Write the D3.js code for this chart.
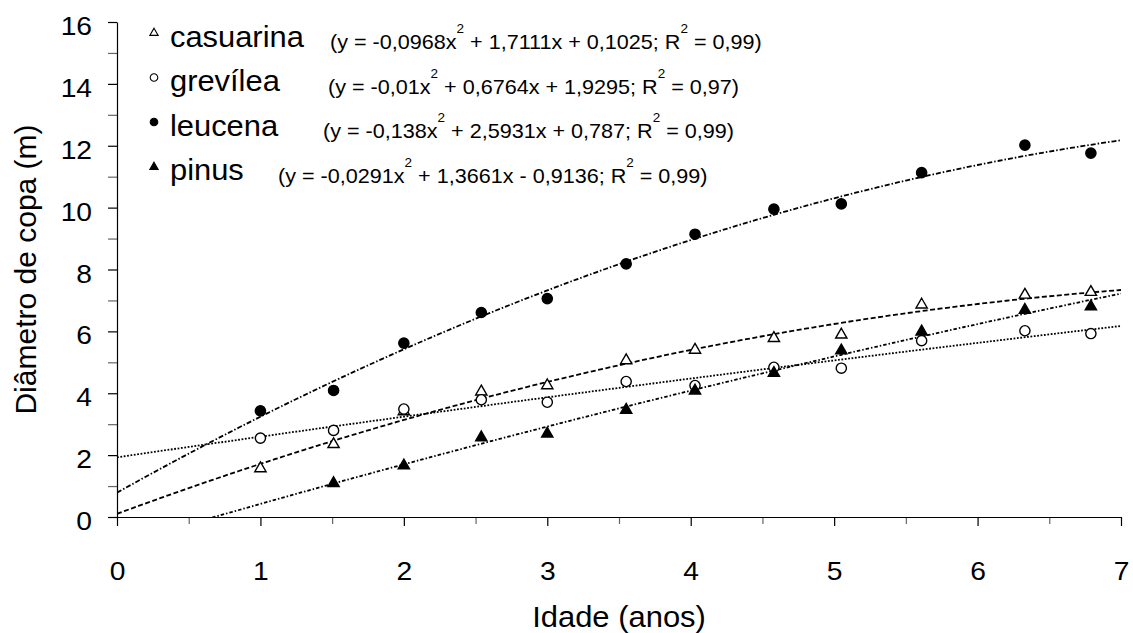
<!DOCTYPE html>
<html>
<head>
<meta charset="utf-8">
<script src="https://cdn.jsdelivr.net/npm/d3@7"></script>
<style>
  html, body { margin: 0; padding: 0; background: #fff; }
  svg { display: block; }
  text { font-family: "Liberation Sans", Arial, sans-serif; fill: #000; }
</style>
</head>
<body>
<svg id="chart" width="1133" height="633"></svg>
<script>
// ---------------- data ----------------
const ages = [1, 1.51, 2, 2.54, 3, 3.55, 4.03, 4.58, 5.05, 5.61, 6.33, 6.79];
const casuarina = [1.57, 2.35, 3.41, 4.05, 4.25, 5.06, 5.40, 5.78, 5.89, 6.86, 7.18, 7.27];
const grevilea  = [2.55, 2.80, 3.49, 3.79, 3.71, 4.38, 4.25, 4.84, 4.81, 5.70, 6.02, 5.93];
const leucena   = [3.43, 4.09, 5.62, 6.61, 7.06, 8.18, 9.14, 9.95, 10.12, 11.13, 12.02, 11.76];
const pinus     = [null, 1.09, 1.66, 2.57, 2.69, 3.46, 4.08, 4.65, 5.38, 5.99, 6.69, 6.80];

const seriesNames = ["casuarina", "grevílea", "leucena", "pinus"];
// fitted quadratic coefficients [a, b, c] for y = a x^2 + b x + c (as printed)
const coefCasuarina = [-0.0968, 1.7111, 0.1025];
const coefGrevilea  = [-0.01, 0.6764, 1.9295];
const coefLeucena   = [-0.138, 2.5931, 0.787];
const coefPinus     = [-0.0291, 1.3661, -0.9136];
const equations = [
  "(y = -0,0968x^2 + 1,7111x + 0,1025; R^2 = 0,99)",
  "(y = -0,01x^2 + 0,6764x + 1,9295; R^2 = 0,97)",
  "(y = -0,138x^2 + 2,5931x + 0,787; R^2 = 0,99)",
  "(y = -0,0291x^2 + 1,3661x - 0,9136; R^2 = 0,99)"
];
const xTicks = [0, 1, 2, 3, 4, 5, 6, 7];
const xMinorTicks = [0.5, 1.5, 2.5, 3.5, 4.5, 5.5, 6.5];
const yTicks = [0, 2, 4, 6, 8, 10, 12, 14, 16];
const yMinorTicks = [1, 3, 5, 7, 9, 11, 13, 15];
const xTitle = "Idade (anos)";
const yTitle = "Diâmetro de copa (m)";

// ---------------- styles / layout ----------------
const SX = 1.065; // horizontal text stretch seen in the reference
const styles = [
  { symbol: d3.symbolTriangle, fill: "#fff", dash: "5,2.5" },
  { symbol: d3.symbolCircle,   fill: "#fff", dash: "1.8,1.6" },
  { symbol: d3.symbolCircle,   fill: "#000", dash: "5,2,1.5,2" },
  { symbol: d3.symbolTriangle, fill: "#000", dash: "3.5,2,1.5,2" }
];
const legendLayout = {
  markerX: 154, markerY: [33, 77.5, 122, 167],
  nameX: 170, nameY: [46.7, 90.7, 135.7, 180],
  eqX: [330, 328, 323, 278], eqY: [49.3, 94, 138.3, 183.3]
};

const svg = d3.select("#chart");
const x = d3.scaleLinear().domain([0, 7]).range([117, 1121]);
const y = d3.scaleLinear().domain([0, 16]).range([517, 22]);

const allSeries = [casuarina, grevilea, leucena, pinus];
const allCoefs = [coefCasuarina, coefGrevilea, coefLeucena, coefPinus];

// clip for fitted curves
svg.append("defs").append("clipPath").attr("id", "plotclip")
  .append("rect")
  .attr("x", x(0)).attr("y", y(16))
  .attr("width", x(7) - x(0)).attr("height", y(0) - y(16));

// ---------------- axes ----------------
function styleAxis(g, color) {
  g.selectAll("line").attr("stroke", color).attr("stroke-width", 1.2);
  g.selectAll("path").attr("stroke", color).attr("stroke-width", 1.2);
}
// minor ticks
svg.append("g").attr("transform", `translate(0,${y(0)})`)
  .call(d3.axisBottom(x).tickValues(xMinorTicks).tickSize(7).tickFormat(""))
  .call(g => g.select(".domain").remove())
  .call(g => styleAxis(g, "#666"));
svg.append("g").attr("transform", `translate(${x(0)},0)`)
  .call(d3.axisLeft(y).tickValues(yMinorTicks).tickSize(9).tickFormat(""))
  .call(g => g.select(".domain").remove())
  .call(g => styleAxis(g, "#666"));

// major axes
const gx = svg.append("g").attr("transform", `translate(0,${y(0)})`)
  .call(d3.axisBottom(x).tickValues(xTicks).tickSize(9).tickSizeOuter(0).tickFormat(d3.format("d")));
styleAxis(gx, "#000");
gx.selectAll("text")
  .attr("y", 63).attr("dy", 0)
  .attr("transform", `scale(${SX},1)`)
  .style("font-size", "26.5px").attr("fill", "#000");

const gy = svg.append("g").attr("transform", `translate(${x(0)},0)`)
  .call(d3.axisLeft(y).tickValues(yTicks).tickSize(9).tickSizeOuter(0).tickFormat(d3.format("d")));
styleAxis(gy, "#000");
gy.selectAll("text")
  .attr("x", -25 / SX).attr("dy", 12.6)
  .attr("transform", `scale(${SX},1)`)
  .style("font-size", "26.5px").attr("fill", "#000");

// axis titles
svg.append("text")
  .attr("transform", `translate(${(x(0) + x(7)) / 2},627) scale(${SX * 0.985},1)`)
  .attr("text-anchor", "middle").style("font-size", "29.5px")
  .text(xTitle);
svg.append("text")
  .attr("transform", `translate(36,${(y(0) + y(16)) / 2}) rotate(-90)`)
  .attr("text-anchor", "middle").style("font-size", "30px")
  .text(yTitle);

// ---------------- fitted curves ----------------
const curveXs = d3.range(0, 7.0001, 0.05);
const line = d3.line().x(d => x(d[0])).y(d => y(d[1]));
allCoefs.forEach((c, i) => {
  const pts = curveXs.map(t => [t, c[0] * t * t + c[1] * t + c[2]]);
  svg.append("path")
    .attr("clip-path", "url(#plotclip)")
    .attr("d", line(pts))
    .attr("fill", "none")
    .attr("stroke", "#000")
    .attr("stroke-width", 1.8)
    .attr("stroke-dasharray", styles[i].dash);
});

// ---------------- points ----------------
allSeries.forEach((vals, i) => {
  const st = styles[i];
  const isTri = st.symbol === d3.symbolTriangle;
  const sym = d3.symbol().type(st.symbol).size(isTri ? 55 : 82);
  svg.append("g").selectAll("path")
    .data(ages.map((a, k) => [a, vals[k]]).filter(d => d[1] != null))
    .join("path")
    .attr("transform", d => `translate(${x(d[0])},${y(d[1])})`)
    .attr("d", sym)
    .attr("fill", st.fill)
    .attr("stroke", "#000")
    .attr("stroke-width", 1.4);
});

// ---------------- legend ----------------
seriesNames.forEach((name, i) => {
  const st = styles[i];
  const isTri = st.symbol === d3.symbolTriangle;
  svg.append("path")
    .attr("transform", `translate(${legendLayout.markerX},${legendLayout.markerY[i]})`)
    .attr("d", d3.symbol().type(st.symbol).size(isTri ? 30 : 45))
    .attr("fill", st.fill).attr("stroke", "#000").attr("stroke-width", 1.1);
  svg.append("text")
    .attr("transform", `translate(${legendLayout.nameX},${legendLayout.nameY[i]}) scale(${SX},1)`)
    .style("font-size", "29px")
    .text(name);
  const t = svg.append("text")
    .attr("transform", `translate(${legendLayout.eqX[i]},${legendLayout.eqY[i]}) scale(1.08,1)`)
    .style("font-size", "20px");
  const parts = equations[i].split("^2");
  parts.forEach((p, k) => {
    t.append("tspan").attr("dy", k === 0 ? 0 : 16.5).text(p);
    if (k < parts.length - 1) {
      t.append("tspan").attr("dy", -16.5).style("font-size", "12.5px").text("2");
    }
  });
});
</script>
</body>
</html>
